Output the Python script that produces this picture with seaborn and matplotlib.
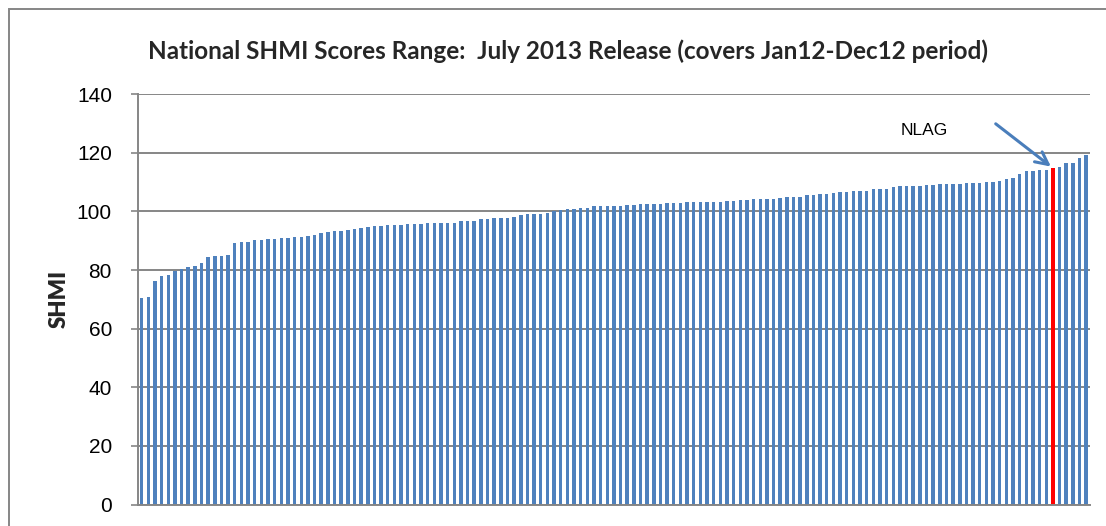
import numpy as np
import pandas as pd
import matplotlib
matplotlib.use("Agg")
import matplotlib.pyplot as plt
import matplotlib.patches as mpatches
import seaborn as sns

# ---- data ----
shmi_values = [
    70.3, 70.7, 76.3, 78.0, 78.3, 79.7, 80.2, 81.0, 81.4, 82.3,
    84.6, 84.7, 84.9, 85.0, 89.1, 89.5, 89.7, 90.2, 90.4, 90.5,
    90.5, 90.9, 91.1, 91.2, 91.4, 91.6, 91.9, 92.5, 93.1, 93.2,
    93.4, 93.5, 94.1, 94.3, 94.7, 95.0,
    95.1, 95.2, 95.2, 95.5, 95.6, 95.6, 95.6, 95.9, 95.9, 95.9,
    96.1, 96.1, 96.6, 96.7, 96.8, 97.3, 97.5, 97.6, 97.6, 97.7,
    98.1, 98.8, 99.0, 99.0, 99.0, 99.4, 100.3, 100.6, 100.7, 100.9,
    101.2, 101.3, 101.7, 101.7, 101.9, 102.0,
    102.0, 102.3, 102.3, 102.4, 102.6, 102.6, 102.6, 102.8, 102.8, 102.8,
    103.1, 103.1, 103.1, 103.1, 103.2, 103.2, 103.4, 103.5, 104.0, 104.0,
    104.1, 104.1, 104.3, 104.3, 104.7, 104.8, 104.8, 105.0, 105.5, 105.5,
    105.8, 106.1, 106.2, 106.5, 106.7, 106.8,
    106.8, 107.0, 107.5, 107.5, 107.8, 108.5, 108.7, 108.7, 108.7, 108.7,
    109.1, 109.1, 109.2, 109.3, 109.4, 109.5, 109.7, 109.7, 109.8, 110.0,
    110.2, 110.5, 110.9, 111.5, 112.7, 113.7, 113.9, 114.1, 114.3, 114.7,
    115.2, 116.4, 116.6, 118.1, 119.1,
]
highlight_index = 137          # NLAG bar
highlight_label = "NLAG"
title_text = "National SHMI Scores Range:  July 2013 Release (covers Jan12-Dec12 period)"
y_label = "SHMI"
y_ticks = [0, 20, 40, 60, 80, 100, 120, 140]

df = pd.DataFrame({"trust": [f"T{i:03d}" for i in range(len(shmi_values))],
                   "shmi": shmi_values})

# ---- style ----
sns.set_style("white")
plt.rcParams["font.family"] = ["Liberation Sans", "DejaVu Sans"]

W, H = 1106, 526
fig = plt.figure(figsize=(W / 100, H / 100), dpi=100)
ax = fig.add_axes([138.3 / W, 1 - 504.5 / H, (1089.5 - 138.3) / W, (504.5 - 94.2) / H])

blue = "#4F81BD"
red = "#FF0000"
grid_c = "#868686"

sns.barplot(data=df, x="trust", y="shmi", color=blue, width=0.52,
            saturation=1, ax=ax, errorbar=None)
for i, p in enumerate(ax.patches):
    p.set_edgecolor("none")
    if i == highlight_index:
        p.set_facecolor(red)

ax.set_ylim(0, 140)
ax.set_xlim(-0.5, len(shmi_values) - 0.5)
ax.set_yticks(y_ticks)
ax.set_yticklabels([str(v) for v in y_ticks], fontsize=15)
ax.set_xticks([])
ax.set_xlabel("")
ax.set_ylabel(y_label, fontsize=16, fontweight="heavy", family=["Lato", "DejaVu Sans"])
ax.yaxis.set_label_coords((70 - 138.3) / 951.2, 0.5)
ax.yaxis.grid(True, color=grid_c, linewidth=1.4)
ax.set_axisbelow(True)
for s in ["top", "right"]:
    ax.spines[s].set_visible(False)
for s in ["left", "bottom"]:
    ax.spines[s].set_color(grid_c)
    ax.spines[s].set_linewidth(1.4)
ax.tick_params(axis="y", which="major", left=True, length=5, width=1.2,
               color=grid_c, pad=14, labelcolor="black")

# annotation
hv = shmi_values[highlight_index]
ax.annotate("", xy=(highlight_index - 0.3, hv + 0.6),
            xytext=(highlight_index - 8.6, hv + 15.2),
            arrowprops=dict(arrowstyle="->,head_length=0.9,head_width=0.45",
                            color="#4A7EBB", lw=2.2, shrinkA=0, shrinkB=0))
ax.text(highlight_index - 19.4, hv + 13.0, highlight_label, fontsize=12.5,
        ha="center", va="center", color="black")

fig.text(568 / W, 1 - 51 / H, title_text, fontsize=17.5, fontweight="bold",
         family=["Lato", "DejaVu Sans"], ha="center", va="center")

# outer chart frame
fig.patches.append(mpatches.Rectangle((9 / W, -0.1), 1.2, 1.1 - 9 / H,
                                      transform=fig.transFigure, fill=False,
                                      edgecolor=grid_c, linewidth=1.4))

fig.savefig("out.png", dpi=100)
